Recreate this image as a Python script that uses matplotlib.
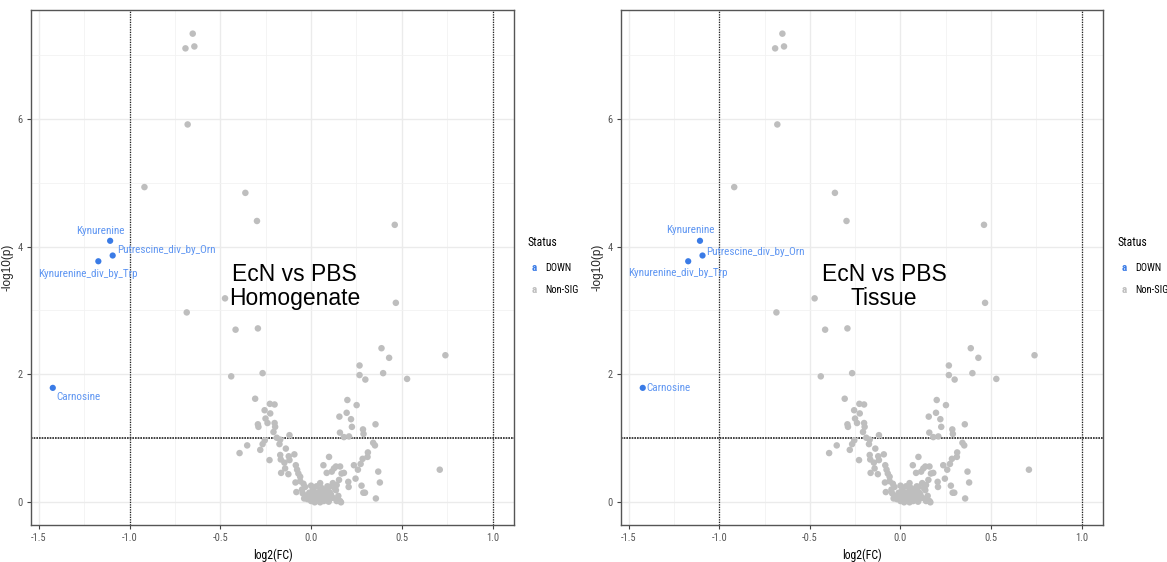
import matplotlib
matplotlib.use("Agg")
import matplotlib.pyplot as plt
from matplotlib.ticker import MultipleLocator
from matplotlib import font_manager

_installed = {f.name for f in font_manager.fontManager.ttflist}
_narrow = [f for f in ('Liberation Sans Narrow', 'DejaVu Sans Condensed', 'Roboto Condensed')
           if f in _installed]
NARROW = _narrow + ['Liberation Sans', 'DejaVu Sans']
plt.rcParams['font.family'] = NARROW
SCALE = 1.0 if _narrow else 0.85

# ---- data: log2 fold change and -log10(p) per metabolite ----
down_names = ["Kynurenine", "Putrescine_div_by_Orn", "Kynurenine_div_by_Trp", "Carnosine"]
down_fc = [-1.107, -1.093, -1.172, -1.423]
down_p = [4.09, 3.86, 3.77, 1.79]

nonsig_fc = [
    -0.652, -0.692, -0.643, -0.680, -0.918, -0.362, -0.298, 0.461, -0.474, 0.467, -0.685,
    -0.416, -0.293, -0.440, -0.267, 0.388, 0.430, 0.740, 0.267, 0.267, 0.299, 0.397, 0.529,
    -0.308, -0.256, -0.227, -0.201, -0.225, -0.251, -0.240, -0.293, -0.290, -0.201, -0.198,
    -0.207, -0.189, -0.170, -0.119, -0.255, -0.267, -0.280, -0.352, -0.394, -0.174, -0.229,
    -0.170, -0.167, -0.139, -0.092, -0.123, -0.119, -0.147, -0.165, -0.125, -0.143, -0.084,
    -0.077, -0.070, -0.086, -0.060, -0.081, -0.042, -0.033, -0.046, -0.038,
    0.068, 0.099, 0.086, 0.114, 0.126, 0.137, 0.154, 0.160, 0.168, 0.181, 0.205, 0.207,
    0.141, 0.137, 0.100, 0.104, 0.097, 0.141, 0.165,
    0.159, 0.181, 0.209, 0.156, 0.200, 0.196, 0.220, 0.225, 0.251, 0.286, 0.289, 0.355,
    0.342, 0.352, 0.313, 0.311, 0.284, 0.273, 0.236, 0.258, 0.245, 0.278, 0.288, 0.297,
    0.370, 0.379, 0.357, 0.709,
    -0.030, -0.020, -0.010, 0.000, 0.000, 0.010, 0.010, 0.020, 0.020, 0.030, 0.030, 0.040,
    0.040, 0.050, 0.050, 0.060, 0.060, 0.070, 0.070, 0.080, 0.080, 0.090, 0.090, 0.100,
    0.110, 0.120, 0.130, 0.120, 0.150, 0.160, -0.050, -0.060, 0.000, 0.050,
]
nonsig_p = [
    7.33, 7.10, 7.13, 5.91, 4.93, 4.84, 4.40, 4.34, 3.19, 3.12, 2.97,
    2.70, 2.72, 1.97, 2.02, 2.41, 2.26, 2.30, 2.14, 1.99, 1.92, 2.02, 1.93,
    1.62, 1.44, 1.54, 1.53, 1.39, 1.31, 1.24, 1.22, 1.18, 1.24, 1.18,
    1.10, 1.01, 0.98, 1.05, 0.97, 0.91, 0.82, 0.89, 0.77, 0.91, 0.66,
    0.74, 0.67, 0.84, 0.75, 0.72, 0.66, 0.62, 0.46, 0.44, 0.53, 0.58,
    0.51, 0.45, 0.31, 0.40, 0.16, 0.29, 0.24, 0.14, 0.06,
    0.58, 0.71, 0.46, 0.48, 0.53, 0.56, 0.35, 0.56, 0.45, 0.46, 0.32, 0.24,
    0.27, 0.19, 0.24, 0.15, 0.01, 0.02, 0.00,
    1.09, 1.02, 1.03, 1.34, 1.60, 1.40, 1.30, 1.18, 1.52, 1.14, 1.07, 1.22,
    0.93, 0.89, 0.78, 0.71, 0.68, 0.60, 0.58, 0.51, 0.37, 0.26, 0.15, 0.15,
    0.48, 0.31, 0.06, 0.51,
    0.10, 0.05, 0.15, 0.02, 0.08, 0.12, 0.20, 0.00, 0.06, 0.15, 0.25, 0.03,
    0.10, 0.18, 0.00, 0.07, 0.22, 0.13, 0.02, 0.18, 0.05, 0.10, 0.25, 0.04,
    0.12, 0.30, 0.22, 0.07, 0.10, 0.02, 0.20, 0.33, 0.26, 0.30,
]

fc_cutoff = 1.0
p_cutoff = 1.0
x_ticks = [-1.5, -1.0, -0.5, 0.0, 0.5, 1.0]
y_ticks = [0, 2, 4, 6]

BLUE_PT = '#3a7be6'
BLUE_TXT = '#5f96f2'
GREY = '#bebebe'

# label offsets (pixels) per panel: (dx, dy, ha, va)
offsets_homog = [(-10, 10, 'center', 'center'), (4, 6, 'left', 'center'),
                 (-10, -13, 'center', 'center'), (4, -9, 'left', 'center')]
offsets_tissue = [(-10, 11, 'center', 'center'), (4, 4, 'left', 'center'),
                  (-10, -12, 'center', 'center'), (4, 0, 'left', 'center')]

W, H = 1167, 562
fig = plt.figure(figsize=(W / 100, H / 100), dpi=100)


def panel(rect, title, offsets, legend_x):
    ax = fig.add_axes(rect)
    ax.set_xlim(-1.543, 1.118)
    ax.set_ylim(-0.355, 7.70)
    ax.xaxis.set_minor_locator(MultipleLocator(0.25))
    ax.yaxis.set_minor_locator(MultipleLocator(1))
    ax.set_xticks(x_ticks)
    ax.set_xticklabels([f"{v:.1f}" for v in x_ticks])
    ax.set_yticks(y_ticks)
    ax.set_yticklabels([str(v) for v in y_ticks])
    ax.grid(which='major', color='#ebebeb', linewidth=1.0, zorder=0)
    ax.grid(which='minor', color='#f2f2f2', linewidth=0.6, zorder=0)
    ax.set_axisbelow(True)
    for s in ax.spines.values():
        s.set_color('#555555')
        s.set_linewidth(1.0)
    ax.tick_params(which='major', length=3, width=0.8, color='#444444',
                   labelsize=7.5 * SCALE, labelcolor='#555555', pad=3)
    ax.tick_params(which='minor', length=0)

    for v in (-fc_cutoff, fc_cutoff):
        ax.axvline(v, color='#222222', linewidth=0.9, linestyle=(0, (1, 1)), zorder=1)
    ax.axhline(p_cutoff, color='#222222', linewidth=1.2, linestyle=(0, (1, 0.6)), zorder=1)

    ax.scatter(nonsig_fc, nonsig_p, s=22, color=GREY, edgecolors='none', zorder=2)
    ax.scatter(down_fc, down_p, s=20, color=BLUE_PT, edgecolors='none', zorder=3)
    for name, x, y, (dx, dy, ha, va) in zip(down_names, down_fc, down_p, offsets):
        ax.annotate(name, (x, y), xytext=(dx, dy), textcoords='offset pixels',
                    ha=ha, va=va, fontsize=8 * SCALE, color=BLUE_TXT, zorder=4)

    ax.text(-0.09, 3.38, title, ha='center', va='center', fontsize=16.5,
            linespacing=1.05, color='black',
            family=['Liberation Sans', 'DejaVu Sans'], zorder=5)

    ax.set_xlabel('log2(FC)', fontsize=8.5 * SCALE, labelpad=4)
    ax.set_ylabel('-log10(p)', fontsize=8.5, labelpad=3, color='#222222',
                  family=['Liberation Sans', 'DejaVu Sans'])

    # legend
    fig.text(legend_x / W, 1 - 242 / H, 'Status', fontsize=8.5 * SCALE, ha='left', va='center')
    fig.text((legend_x + 7) / W, 1 - 268 / H, 'a', fontsize=8, fontweight='bold',
             color=BLUE_PT, ha='center', va='center')
    fig.text((legend_x + 7) / W, 1 - 290 / H, 'a', fontsize=8, fontweight='bold',
             color=GREY, ha='center', va='center')
    fig.text((legend_x + 18) / W, 1 - 268 / H, 'DOWN', fontsize=7.5 * SCALE, ha='left', va='center')
    fig.text((legend_x + 18) / W, 1 - 290 / H, 'Non-SIG', fontsize=7.5 * SCALE, ha='left', va='center')
    return ax


panel([31 / W, 1 - 525 / H, (514 - 31) / W, (525 - 10) / H],
      'EcN vs PBS\nHomogenate', offsets_homog, 527)
panel([621 / W, 1 - 525 / H, (1103 - 621) / W, (525 - 10) / H],
      'EcN vs PBS\nTissue', offsets_tissue, 1117)

fig.savefig('out.png', dpi=100)
